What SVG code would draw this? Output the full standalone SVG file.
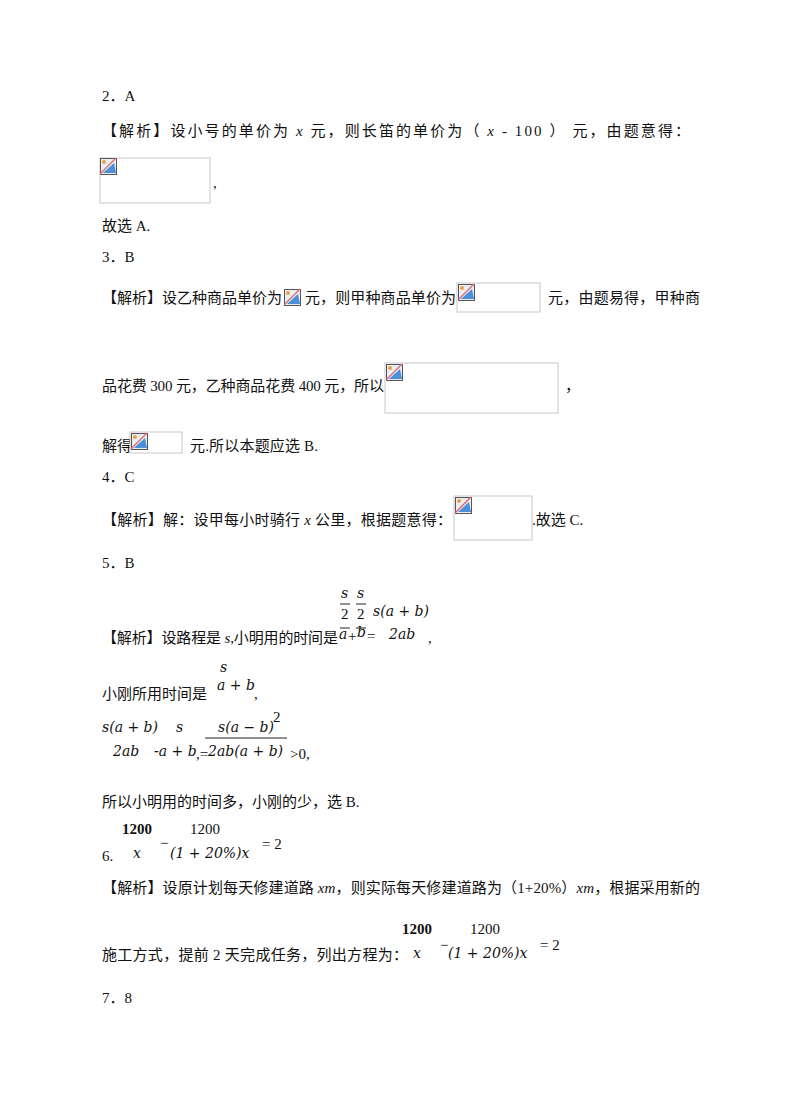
<svg xmlns="http://www.w3.org/2000/svg" width="800" height="1107" viewBox="0 0 800 1107">
<style>
text{font-family:"Liberation Serif","Noto Sans CJK SC",serif;font-size:15px;fill:#111}
.m{font-family:"DejaVu Serif","Liberation Serif",serif;font-style:italic;font-size:14px}
.n{font-family:"Liberation Serif",serif;font-size:15px}
.b{font-weight:bold}
.box{fill:#fff;stroke:#c8c8c8;stroke-width:1}
.fl{stroke:#222;stroke-width:1}
</style>
<defs>
<g id="ic">
<rect x="0.5" y="0.5" width="16" height="16" fill="#e8eef4" stroke="#555"/>
<polygon points="3,15 14,5 16,15" fill="#4a90d9"/>
<circle cx="4" cy="4" r="2" fill="#f0a040"/>
<line x1="0" y1="16" x2="16" y2="0" stroke="#e07070" stroke-width="1.5"/>
</g>
</defs>
<rect width="800" height="1107" fill="#fff"/>
<text x="102" y="101">2．A</text>
<text x="102" y="136" textLength="588" lengthAdjust="spacing">【解析】设小号的单价为 <tspan font-style="italic">x</tspan> 元，则长笛的单价为（ <tspan font-style="italic">x</tspan> - 100 ） 元，由题意得：</text>
<rect class="box" x="100" y="158" width="110" height="45"/><use href="#ic" x="100" y="158"/>
<text x="213" y="188">,</text>
<text x="102" y="231">故选 A.</text>
<text x="102" y="262">3．B</text>
<text x="102" y="303" textLength="180" lengthAdjust="spacing">【解析】设乙种商品单价为</text>
<use href="#ic" x="284" y="289"/>
<text x="305" y="303" textLength="151" lengthAdjust="spacing"> 元，则甲种商品单价为</text>
<rect class="box" x="457" y="283" width="83" height="29"/><use href="#ic" x="458" y="284"/>
<text x="548" y="303" textLength="152" lengthAdjust="spacing">元，由题易得，甲种商</text>
<text x="102" y="391" textLength="282" lengthAdjust="spacing">品花费 300 元，乙种商品花费 400 元，所以</text>
<rect class="box" x="385" y="363" width="173" height="50"/><use href="#ic" x="386" y="364"/>
<text x="565" y="391">，</text>
<text x="102" y="451">解得</text>
<rect class="box" x="130" y="432" width="52" height="21"/><use href="#ic" x="131" y="433"/>
<text x="190" y="451" textLength="128" lengthAdjust="spacing">元.所以本题应选 B.</text>
<text x="102" y="482">4．C</text>
<text x="102" y="525" textLength="350" lengthAdjust="spacing">【解析】解：设甲每小时骑行 <tspan font-style="italic">x</tspan> 公里，根据题意得：</text>
<rect class="box" x="454" y="496" width="78" height="44"/><use href="#ic" x="455" y="497"/>
<text x="532" y="525">.故选 C.</text>
<text x="102" y="568">5．B</text>
<g id="f1">
<text class="m" x="341" y="598">s</text><line class="fl" x1="340" y1="604" x2="350" y2="604"/><text class="n" x="341" y="619">2</text><line class="fl" x1="340" y1="628" x2="350" y2="628"/>
<text class="m" x="357" y="598">s</text><line class="fl" x1="356" y1="604" x2="366" y2="604"/><text class="n" x="357" y="619">2</text><line class="fl" x1="356" y1="628" x2="366" y2="628"/>
<text class="m" x="339" y="639">a</text><text class="n" x="348" y="641">+</text><text class="m" x="357" y="637">b</text><text class="n" x="367" y="641">=</text>
<text class="m" x="373" y="616">s(a + b)</text><text class="m" x="389" y="639">2ab</text>
</g>
<text x="102" y="643" textLength="236" lengthAdjust="spacing">【解析】设路程是 <tspan font-style="italic">s</tspan>,小明用的时间是</text>
<text x="428" y="643">,</text>
<text class="m" x="220" y="672">s</text><text class="m" x="217" y="690">a + b</text>
<text x="102" y="699">小刚所用时间是</text><text x="254" y="699">,</text>
<g id="f2">
<text class="m" x="102" y="732">s(a + b)</text><text class="m" x="113" y="756">2ab</text>
<text class="m" x="176" y="732">s</text><text class="m" x="154" y="756">-a + b</text><text class="n" x="196" y="759">,=</text>
<text class="m" x="218" y="732">s(a − b)</text><text class="n" x="273" y="722" font-size="11">2</text>
<line class="fl" x1="205" y1="738" x2="287" y2="738"/>
<text class="m" x="208" y="756">2ab(a + b)</text><text x="290" y="759">&gt;0,</text>
</g>
<text x="102" y="807">所以小明用的时间多，小刚的少，选 B.</text>
<g id="f3">
<text class="n b" x="122" y="834">1200</text><text class="m" x="133" y="858">x</text>
<text class="n" x="160" y="848">−</text>
<text class="n" x="190" y="834">1200</text><text class="m" x="170" y="858">(1 + 20%)x</text>
<text class="n" x="262" y="849">= 2</text>
</g>
<text x="102" y="861">6.</text>
<text x="102" y="893" textLength="598" lengthAdjust="spacing">【解析】设原计划每天修建道路 <tspan font-style="italic">xm</tspan>，则实际每天修建道路为（1+20%）<tspan font-style="italic">xm</tspan>，根据采用新的</text>
<text x="102" y="960" textLength="306" lengthAdjust="spacing">施工方式，提前 2 天完成任务，列出方程为：</text>
<g id="f4">
<text class="n b" x="402" y="934">1200</text><text class="m" x="413" y="958">x</text>
<text class="n" x="440" y="950">−</text>
<text class="n" x="470" y="934">1200</text><text class="m" x="448" y="958">(1 + 20%)x</text>
<text class="n" x="540" y="950">= 2</text>
</g>
<text x="102" y="1003">7．8</text>
</svg>
